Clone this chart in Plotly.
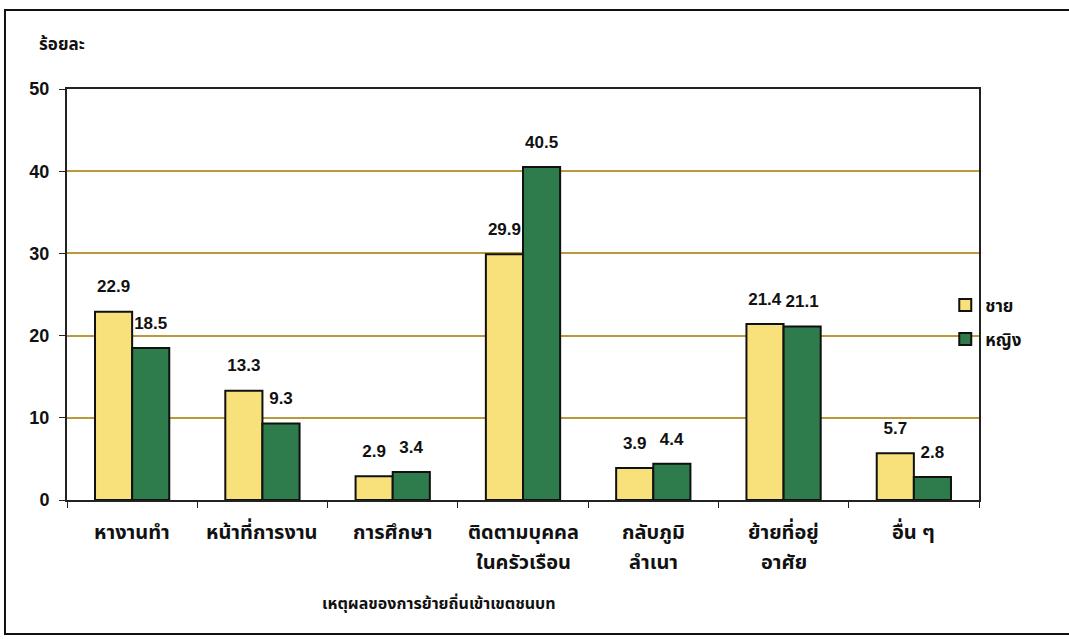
import plotly.graph_objects as go

# ---------------------------------------------------------------------------
# Data
# ---------------------------------------------------------------------------

categories = [
    "หางานทำ",
    "หน้าที่การงาน",
    "การศึกษา",
    "ติดตามบุคคล<br>ในครัวเรือน",
    "กลับภูมิ<br>ลำเนา",
    "ย้ายที่อยู่<br>อาศัย",
    "อื่น ๆ",
]
male = [22.9, 13.3, 2.9, 29.9, 3.9, 21.4, 5.7]
female = [18.5, 9.3, 3.4, 40.5, 4.4, 21.1, 2.8]
series_names = ["ชาย", "หญิง"]

y_ticks = [0, 10, 20, 30, 40, 50]

# ---------------------------------------------------------------------------
# Style
# ---------------------------------------------------------------------------

_THAI_FONT = "Noto Sans Thai, Loma, Garuda, Tlwg Typo, DejaVu Sans, sans-serif"
_NUM_FONT = "Liberation Sans, Arial, sans-serif"
_YELLOW = "#F8E07A"
_GREEN = "#2E7B4B"
_GRID = "#B9993A"
_INK = "#111111"

fig = go.Figure()

for name, vals, color in [
    (series_names[0], male, _YELLOW),
    (series_names[1], female, _GREEN),
]:
    fig.add_trace(
        go.Bar(
            x=categories,
            y=vals,
            name=name,
            legendgroup=name,
            marker=dict(color=color, line=dict(color=_INK, width=2)),
            # small blank second line lifts the value label off the bar top
            text=[f"<span style='font-size:17px'>{v:.1f}</span><br> " for v in vals],
            textposition="outside",
            textfont=dict(family=_NUM_FONT, size=11, color=_INK, weight="bold"),
            cliponaxis=False,
        )
    )

fig.update_layout(
    width=1069,
    height=639,
    paper_bgcolor="white",
    plot_bgcolor="white",
    margin=dict(l=67, r=90, t=89, b=139),
    barmode="group",
    bargap=0.43,
    bargroupgap=0.0,
    showlegend=True,
    legend=dict(
        x=0.963,
        y=0.432,
        xanchor="left",
        yanchor="middle",
        font=dict(family=_THAI_FONT, size=17, color=_INK, weight="bold"),
        itemwidth=30,
        tracegroupgap=9,
        bgcolor="rgba(0,0,0,0)",
    ),
    font=dict(family=_THAI_FONT, color=_INK),
)

fig.update_xaxes(
    showline=True,
    linecolor="#222222",
    linewidth=2,
    mirror=True,
    ticks="outside",
    tickson="boundaries",
    ticklen=6,
    tickcolor="#222222",
    showticklabels=False,
    showgrid=False,
)

fig.update_yaxes(
    range=[0, 50],
    tickvals=y_ticks,
    showline=True,
    linecolor="#222222",
    linewidth=2,
    mirror=True,
    ticks="outside",
    ticklen=6,
    tickcolor="#222222",
    ticklabelstandoff=6,
    tickfont=dict(family=_NUM_FONT, size=18, color=_INK, weight="bold"),
    showgrid=True,
    gridcolor=_GRID,
    gridwidth=1.5,
    zeroline=False,
)

# category labels: one annotation per line so the line gap matches the original
for cat in categories:
    for i, line in enumerate(cat.split("<br>")):
        fig.add_annotation(
            text=line,
            x=cat, xref="x",
            y=0, yref="paper",
            yshift=-33 - 30 * i,
            xanchor="center", yanchor="middle",
            showarrow=False,
            font=dict(family=_THAI_FONT, size=20, color=_INK, weight="bold"),
        )

# axis titles
fig.add_annotation(
    text="ร้อยละ",
    xref="paper", yref="paper",
    x=-0.033, y=1.107,
    xanchor="left", yanchor="middle",
    showarrow=False,
    font=dict(family=_THAI_FONT, size=17, color=_INK, weight="bold"),
)
fig.add_annotation(
    text="เหตุผลของการย้ายถิ่นเข้าเขตชนบท",
    xref="paper", yref="paper",
    x=0.408, y=-0.253,
    xanchor="center", yanchor="middle",
    showarrow=False,
    font=dict(family=_THAI_FONT, size=16, color=_INK, weight="bold"),
)

# outer frame round the whole chart
fig.add_shape(
    type="rect",
    xref="paper", yref="paper",
    x0=-0.068, x1=1.12, y0=-0.326, y1=1.192,
    line=dict(color=_INK, width=2),
    fillcolor="rgba(0,0,0,0)",
    layer="below",
)

# drop the default 8px page margin so the figure sits at the window corner
fig.write_html(
    "out.html",
    config={"displayModeBar": False},
    post_script="document.body.style.margin='0';",
)
